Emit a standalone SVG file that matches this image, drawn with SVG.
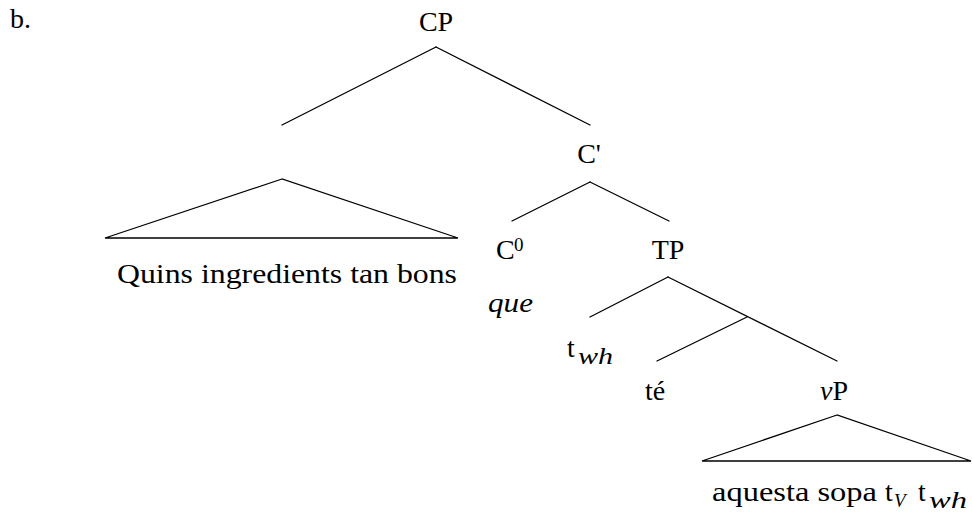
<svg xmlns="http://www.w3.org/2000/svg" width="972" height="523" viewBox="0 0 972 523">
  <rect width="972" height="523" fill="#fff"/>
  <g id="connectors" stroke="#000" stroke-width="1.3" fill="none" stroke-linecap="round">
    <line x1="436" y1="47" x2="282" y2="125"/>
    <line x1="436" y1="47" x2="590" y2="125"/>
    <line x1="590" y1="182" x2="512" y2="221"/>
    <line x1="590" y1="182" x2="669" y2="221"/>
    <line x1="668" y1="277" x2="590" y2="317"/>
    <line x1="668" y1="277" x2="837" y2="361"/>
    <line x1="747" y1="317" x2="657" y2="361"/>
    <polygon points="282,179 105,238 458,238"/>
    <polygon points="837,415 702,461 971,461"/>
  </g>
  <g id="labels" font-family="Liberation Serif, serif" font-size="28" fill="#000">
    <g id="label-b"><text x="10" y="28">b.</text></g>
    <g id="node-CP"><text text-anchor="middle" x="436" y="31">CP</text></g>
    <g id="node-Cbar"><text text-anchor="middle" x="589" y="163">C'</text></g>
    <g id="node-spec"><text x="117" y="283" textLength="340" lengthAdjust="spacingAndGlyphs">Quins ingredients tan bons</text></g>
    <g id="node-C0">
      <text x="496" y="259">C</text>
      <text x="514" y="251" font-size="19">0</text>
      <text x="488" y="312" font-style="italic" textLength="45" lengthAdjust="spacingAndGlyphs">que</text>
    </g>
    <g id="node-TP"><text text-anchor="middle" x="668" y="259">TP</text></g>
    <g id="node-twh">
      <text x="567" y="357">t</text>
      <text x="578" y="364" font-style="italic" font-size="23" textLength="35" lengthAdjust="spacingAndGlyphs">wh</text>
    </g>
    <g id="node-te"><text text-anchor="middle" x="655" y="400">té</text></g>
    <g id="node-vP"><text x="820" y="400"><tspan font-style="italic">v</tspan>P</text></g>
    <g id="node-vP-content">
      <text x="712" y="501" textLength="165" lengthAdjust="spacingAndGlyphs">aquesta sopa</text>
      <text x="885" y="501">t</text>
      <text x="894" y="507" font-style="italic" font-size="19">V</text>
      <text x="918" y="501">t</text>
      <text x="929" y="508" font-style="italic" font-size="23" textLength="38" lengthAdjust="spacingAndGlyphs">wh</text>
    </g>
  </g>
</svg>
